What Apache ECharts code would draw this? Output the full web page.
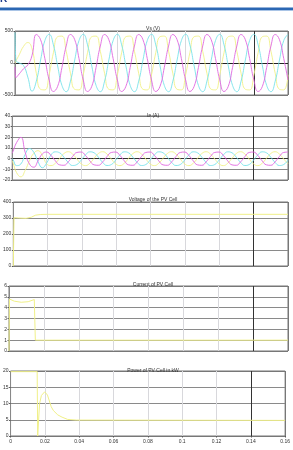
<!DOCTYPE html>
<html>
<head>
<meta charset="utf-8">
<script src="https://cdn.jsdelivr.net/npm/echarts@6/dist/echarts.min.js"></script>
<style>
html,body{margin:0;padding:0;background:#fff;}
#chart{width:293px;height:450px;}
</style>
</head>
<body>
<div id="chart"></div>
<script>
// ---- data ----
var panelTitles = ['Vs (V)', 'Ia (A)', 'Voltage of the PV Cell', 'Current of PV Cell', 'Power of PV Cell in kW'];

var acTime = [0,0.0005,0.0025,0.005,0.0075,0.01,0.0125,0.015,0.0175,0.02,0.0225,0.025,0.0275,0.03,0.0325,0.035,0.0375,0.04,0.0425,0.045,0.0475,0.05,0.0525,0.055,0.0575,0.06,0.0625,0.065,0.0675,0.07,0.0725,0.075,0.0775,0.08,0.0825,0.085,0.0875,0.09,0.0925,0.095,0.0975,0.1,0.1025,0.105,0.1075,0.11,0.1125,0.115,0.1175,0.12,0.1225,0.125,0.1275,0.13,0.1325,0.135,0.1375,0.14,0.1425,0.145,0.1475,0.15,0.1525,0.155,0.1575,0.16];

var vsA = [-60,-230,-170,-90,-30,120,445,364,70,-265,
  -445,-364,-70,265,445,364,70,-265,
  -445,-364,-70,265,445,364,70,-265,
  -445,-364,-70,265,445,364,70,-265,
  -445,-364,-70,265,445,364,70,-265,
  -445,-364,-70,265,445,364,70,-265,
  -445,-364,-70,265,445,364,70,-265,
  -445,-364,-70,265,445,364,70,-265];
var vsB = [480,40,0,-40,-220,-440,-283,47,350,448,
  283,-47,-350,-448,-283,47,350,448,
  283,-47,-350,-448,-283,47,350,448,
  283,-47,-350,-448,-283,47,350,448,
  283,-47,-350,-448,-283,47,350,448,
  283,-47,-350,-448,-283,47,350,448,
  283,-47,-350,-448,-283,47,350,448,
  283,-47,-350,-448,-283,47,350,448];
var vsC = [0,30,130,260,320,220,-161,-411,-420,-183,
  161,411,420,183,-161,-411,-420,-183,
  161,411,420,183,-161,-411,-420,-183,
  161,411,420,183,-161,-411,-420,-183,
  161,411,420,183,-161,-411,-420,-183,
  161,411,420,183,-161,-411,-420,-183,
  161,411,420,183,-161,-411,-420,-183,
  161,411,420,183,-161,-411,-420,-183];

var iaA = [5,7,15,20,6,-5,-8,-2,4.5,6.2,
  3.0,-2.0,-5.8,-6.2,-3.0,2.0,5.8,6.2,
  3.0,-2.0,-5.8,-6.2,-3.0,2.0,5.8,6.2,
  3.0,-2.0,-5.8,-6.2,-3.0,2.0,5.8,6.2,
  3.0,-2.0,-5.8,-6.2,-3.0,2.0,5.8,6.2,
  3.0,-2.0,-5.8,-6.2,-3.0,2.0,5.8,6.2,
  3.0,-2.0,-5.8,-6.2,-3.0,2.0,5.8,6.2,
  3.0,-2.0,-5.8,-6.2,-3.0,2.0,5.8,6.2];
var iaB = [0,-1,-6.5,-5,4,9.5,6,-3,-8.5,-4,
  3.5,6.4,5.5,1.4,-3.5,-6.4,-5.5,-1.4,
  3.5,6.4,5.5,1.4,-3.5,-6.4,-5.5,-1.4,
  3.5,6.4,5.5,1.4,-3.5,-6.4,-5.5,-1.4,
  3.5,6.4,5.5,1.4,-3.5,-6.4,-5.5,-1.4,
  3.5,6.4,5.5,1.4,-3.5,-6.4,-5.5,-1.4,
  3.5,6.4,5.5,1.4,-3.5,-6.4,-5.5,-1.4,
  3.5,6.4,5.5,1.4,-3.5,-6.4,-5.5,-1.4];
var iaC = [-2,-4,-13,-17,-11,-2,5,7.5,3,-4.8,
  -6.5,-4.3,0.3,4.8,6.5,4.3,-0.3,-4.8,
  -6.5,-4.3,0.3,4.8,6.5,4.3,-0.3,-4.8,
  -6.5,-4.3,0.3,4.8,6.5,4.3,-0.3,-4.8,
  -6.5,-4.3,0.3,4.8,6.5,4.3,-0.3,-4.8,
  -6.5,-4.3,0.3,4.8,6.5,4.3,-0.3,-4.8,
  -6.5,-4.3,0.3,4.8,6.5,4.3,-0.3,-4.8,
  -6.5,-4.3,0.3,4.8,6.5,4.3,-0.3,-4.8];

var pvVTime = [0,0.0004,0.003,0.0075,0.0105,0.013,0.016,0.02,0.16];
var pvV     = [0,302,300,298,305,318,322,323,323];

var pvITime = [0,0.0003,0.003,0.007,0.011,0.0145,0.0151,0.16];
var pvI     = [0,4.8,4.6,4.5,4.55,4.75,1.0,1.0];

var pvPTime = [0,0.0155,0.0158,0.0166,0.0169,0.018,0.0199,0.0205,0.0215,0.022,0.0237,0.025,0.0275,0.03,0.0333,0.0383,0.16];
var pvP     = [19.8,19.8,0,0,10,12.5,13.6,13.3,12.6,12,9,7.8,6.5,5.8,5.1,4.9,4.8];

var xTicks = {min:0, max:0.16, interval:0.02};
var yRanges = [
  {min:-500, max:500, interval:500},
  {min:-20, max:40, interval:10},
  {min:0, max:400, interval:100},
  {min:0, max:6, interval:1},
  {min:0, max:20, interval:5}
];

// ---- layout / style ----
var YEL = '#f0f088', CYA = '#78e2ea', MAG = '#e068e0';
var grids = [
  {top:31, height:64},
  {top:116, height:64},
  {top:202, height:64},
  {top:286, height:65},
  {top:371, height:65}
];
var titleTops = [21, 108, 192, 277, 363];
var FONT = 'Liberation Sans';

function zip(t, v){ return t.map(function(x,i){ return [x, v[i]]; }); }

var hColors = [
  ['#777','#222','#777'],
  ['#777','#8a8a8a','#333','#8a8a8a','#8a8a8a','#8a8a8a','#777'],
  ['#777','#8a8a8a','#8a8a8a','#8a8a8a','#777'],
  ['#777','#8a8a8a','#8a8a8a','#8a8a8a','#8a8a8a','#8a8a8a','#777'],
  ['#777','#8a8a8a','#8a8a8a','#8a8a8a','#777']
];
var vColors = ['#888','#d8d8dc','#d8d8dc','#d8d8dc','#d8d8dc','#d8d8dc','#d8d8dc','#333','#777'];

var option = {
  animation:false,
  backgroundColor:'#fff',
  textStyle:{fontFamily:FONT},
  title: panelTitles.map(function(t,i){
    return {text:t, left:148, top:titleTops[i], textAlign:'center',
      textStyle:{fontSize:5, fontWeight:'normal', color:'#333', fontFamily:FONT}};
  }),
  graphic:[
    {type:'rect', shape:{x:0,y:7.5,width:293,height:2.6}, style:{fill:'#2b67b3'}},
    {type:'rect', shape:{x:0,y:10.1,width:293,height:0.8}, style:{fill:'#a9c4e6'}},
    {type:'text', left:0, top:-6, style:{text:'K', font:'bold 10px Liberation Sans', fill:'#1f3c8c'}}
  ],
  grid: grids.map(function(g){
    return {left:9, right:5, top:g.top, height:g.height, show:true, borderColor:'#777', borderWidth:1};
  }),
  xAxis: grids.map(function(g,i){
    return {type:'value', gridIndex:i, min:xTicks.min, max:xTicks.max, interval:xTicks.interval,
      axisLine:{show:false},
      axisTick:{show:i===4, length:1.5, lineStyle:{color:'#555'}},
      axisLabel:{show:i===4, fontSize:5, color:'#333', margin:3, fontFamily:FONT},
      splitLine:{show:true, lineStyle:{color:vColors, width:1}}};
  }),
  yAxis: yRanges.map(function(r,i){
    return {type:'value', gridIndex:i, min:r.min, max:r.max, interval:r.interval,
      axisLine:{show:false},
      axisTick:{show:true, length:1.5, lineStyle:{color:'#555'}},
      axisLabel:{fontSize:5, color:'#333', margin:2, fontFamily:FONT},
      splitLine:{show:true, lineStyle:{color:hColors[i], width:1}}};
  }),
  series: [
    {type:'line', xAxisIndex:0, yAxisIndex:0, data:zip(acTime, vsC), smooth:0.5, showSymbol:false, lineStyle:{color:YEL,width:0.9}},
    {type:'line', xAxisIndex:0, yAxisIndex:0, data:zip(acTime, vsB), smooth:0.5, showSymbol:false, lineStyle:{color:CYA,width:0.9}},
    {type:'line', xAxisIndex:0, yAxisIndex:0, data:zip(acTime, vsA), smooth:0.5, showSymbol:false, lineStyle:{color:MAG,width:0.9}},
    {type:'line', xAxisIndex:1, yAxisIndex:1, data:zip(acTime, iaC), smooth:0.5, showSymbol:false, lineStyle:{color:YEL,width:0.9}},
    {type:'line', xAxisIndex:1, yAxisIndex:1, data:zip(acTime, iaB), smooth:0.5, showSymbol:false, lineStyle:{color:CYA,width:0.9}},
    {type:'line', xAxisIndex:1, yAxisIndex:1, data:zip(acTime, iaA), smooth:0.5, showSymbol:false, lineStyle:{color:MAG,width:0.9}},
    {type:'line', xAxisIndex:2, yAxisIndex:2, data:zip(pvVTime, pvV), showSymbol:false, lineStyle:{color:YEL,width:1}},
    {type:'line', xAxisIndex:3, yAxisIndex:3, data:zip(pvITime, pvI), showSymbol:false, lineStyle:{color:YEL,width:1}},
    {type:'line', xAxisIndex:4, yAxisIndex:4, data:zip(pvPTime, pvP), showSymbol:false, lineStyle:{color:YEL,width:1}}
  ]
};

var chart = echarts.init(document.getElementById('chart'), null, {renderer:'canvas'});
chart.setOption(option);
</script>
</body>
</html>
